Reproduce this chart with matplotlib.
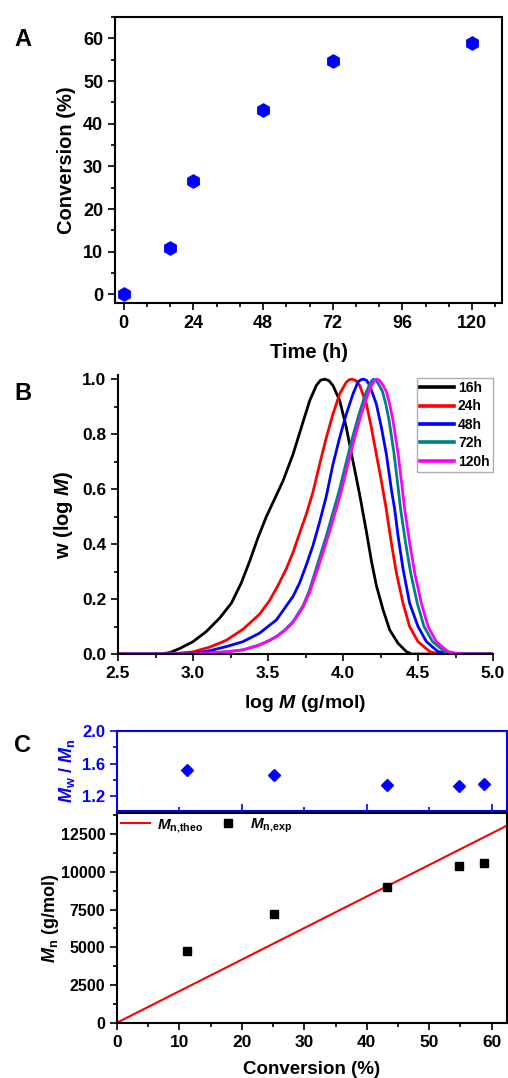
import numpy as np
import matplotlib
matplotlib.use("Agg")
import matplotlib.pyplot as plt
from matplotlib.ticker import MultipleLocator, FormatStrFormatter
from matplotlib.lines import Line2D

plt.rcParams['font.family'] = ['Liberation Sans', 'DejaVu Sans']
plt.rcParams['font.weight'] = 'bold'
plt.rcParams['mathtext.fontset'] = 'custom'
plt.rcParams['mathtext.rm'] = 'Liberation Sans:bold'
plt.rcParams['mathtext.it'] = 'Liberation Sans:italic:bold'
plt.rcParams['mathtext.bf'] = 'Liberation Sans:bold'
plt.rcParams['mathtext.bfit'] = 'Liberation Sans:italic:bold'

# ---- panel A: conversion vs time
time_h = [0, 16, 24, 48, 72, 120]
conversion = [0, 11.0, 26.7, 43.2, 54.7, 58.8]

# ---- panel B: GPC traces
logM_16 = [2.5, 2.78, 2.845, 2.911, 3.0, 3.089, 3.178, 3.256, 3.322, 3.378, 3.433, 3.489, 3.545,
           3.60, 3.667, 3.722, 3.778, 3.822, 3.85, 3.878, 3.905, 3.933, 3.978, 4.022, 4.067, 4.111,
           4.156, 4.189, 4.222, 4.267, 4.311, 4.367, 4.422, 4.456, 5.0]
w_16 = [0, 0, 0.005, 0.02, 0.045, 0.082, 0.131, 0.185, 0.259, 0.338, 0.423, 0.50, 0.565,
        0.63, 0.727, 0.824, 0.922, 0.977, 0.996, 1.0, 0.995, 0.977, 0.922, 0.824, 0.70, 0.58,
        0.445, 0.34, 0.25, 0.161, 0.088, 0.039, 0.009, 0, 0]
logM_24 = [2.5, 2.85, 3.0, 3.111, 3.222, 3.333, 3.444, 3.511, 3.567, 3.622, 3.667, 3.711, 3.756,
           3.80, 3.844, 3.889, 3.933, 3.978, 4.022, 4.042, 4.062, 4.085, 4.111, 4.156, 4.189, 4.222,
           4.256, 4.289, 4.322, 4.356, 4.40, 4.444, 4.50, 4.578, 4.64, 5.0]
w_24 = [0, 0, 0.008, 0.025, 0.05, 0.09, 0.145, 0.195, 0.25, 0.31, 0.37, 0.44, 0.51,
        0.59, 0.69, 0.788, 0.873, 0.947, 0.989, 0.998, 1.0, 0.995, 0.977, 0.91, 0.824, 0.727,
        0.629, 0.525, 0.405, 0.295, 0.185, 0.10, 0.045, 0.009, 0, 0]
logM_48 = [2.5, 2.95, 3.05, 3.111, 3.222, 3.333, 3.444, 3.511, 3.556, 3.622, 3.667, 3.711, 3.756,
           3.80, 3.844, 3.889, 3.933, 3.978, 4.022, 4.067, 4.10, 4.12, 4.138, 4.158, 4.178, 4.222,
           4.256, 4.289, 4.322, 4.345, 4.367, 4.40, 4.444, 4.50, 4.556, 4.633, 4.71, 5.0]
w_48 = [0, 0, 0.006, 0.012, 0.027, 0.045, 0.076, 0.105, 0.124, 0.175, 0.21, 0.259, 0.325,
        0.395, 0.48, 0.575, 0.69, 0.788, 0.873, 0.947, 0.99, 0.998, 1.0, 0.995, 0.977, 0.91,
        0.824, 0.727, 0.60, 0.525, 0.43, 0.31, 0.185, 0.10, 0.045, 0.009, 0, 0]
logM_72 = [2.5, 3.0, 3.111, 3.222, 3.333, 3.444, 3.511, 3.556, 3.611, 3.667, 3.733, 3.775, 3.815,
           3.855, 3.897, 3.941, 3.974, 4.018, 4.063, 4.107, 4.150, 4.172, 4.19, 4.205, 4.222, 4.242,
           4.263, 4.285, 4.307, 4.340, 4.362, 4.384, 4.417, 4.451, 4.495, 4.540, 4.597, 4.677, 4.76, 5.0]
w_72 = [0, 0, 0.004, 0.008, 0.015, 0.033, 0.05, 0.064, 0.087, 0.118, 0.175, 0.23, 0.30,
        0.37, 0.445, 0.53, 0.593, 0.69, 0.788, 0.873, 0.947, 0.975, 0.994, 1.0, 0.995, 0.977,
        0.955, 0.91, 0.85, 0.73, 0.63, 0.527, 0.405, 0.295, 0.185, 0.10, 0.045, 0.009, 0, 0]
logM_120 = [2.5, 3.0, 3.111, 3.222, 3.333, 3.444, 3.511, 3.556, 3.611, 3.667, 3.733, 3.778, 3.822,
            3.867, 3.911, 3.956, 3.989, 4.033, 4.078, 4.122, 4.167, 4.189, 4.208, 4.227, 4.245, 4.267,
            4.289, 4.311, 4.333, 4.367, 4.389, 4.411, 4.444, 4.478, 4.522, 4.567, 4.622, 4.70, 4.78, 5.0]
w_120 = [0, 0, 0.004, 0.008, 0.015, 0.033, 0.05, 0.063, 0.085, 0.115, 0.17, 0.225, 0.295,
         0.37, 0.445, 0.53, 0.593, 0.69, 0.788, 0.873, 0.947, 0.975, 0.994, 1.0, 0.995, 0.977,
         0.955, 0.91, 0.85, 0.73, 0.63, 0.527, 0.405, 0.295, 0.185, 0.10, 0.045, 0.009, 0, 0]
trace_labels = ['16h', '24h', '48h', '72h', '120h']
trace_colors = ['black', '#ff0000', '#0000ff', '#008080', '#ff00ff']

# ---- panel C: Mn and dispersity vs conversion
conv_exp = [11.2, 25.2, 43.3, 54.8, 58.8]
mn_exp = [4780, 7230, 8980, 10380, 10580]
pdi = [1.518, 1.465, 1.335, 1.323, 1.347]
conv_theo = [0, 65]
mn_theo = [0, 13600]

fig = plt.figure(figsize=(5.08, 10.78), dpi=100)

def style(ax, size=12.5):
    ax.tick_params(which='both', direction='out', labelsize=size, width=1.2)
    ax.tick_params(which='major', length=5)
    ax.tick_params(which='minor', length=3)
    for s in ax.spines.values():
        s.set_linewidth(1.5)

# A
axA = fig.add_axes([0.2264, 0.7189, 0.7618, 0.2653])
axA.plot(time_h, conversion, 'h', color='#0000ff', ms=9.5, mec='#0000ff')
axA.set_xlim(-3, 130.3)
axA.set_ylim(-2, 65)
axA.xaxis.set_major_locator(MultipleLocator(24))
axA.xaxis.set_minor_locator(MultipleLocator(8))
axA.yaxis.set_major_locator(MultipleLocator(10))
axA.yaxis.set_minor_locator(MultipleLocator(5))
style(axA, 13)
axA.set_xlabel('Time (h)', fontsize=14.5, fontweight='bold', labelpad=8)
axA.set_ylabel('Conversion (%)', fontsize=14.5, fontweight='bold', labelpad=5)

# B
axB = fig.add_axes([0.2323, 0.3933, 0.7382, 0.2588])
traces = [(logM_16, w_16), (logM_24, w_24), (logM_48, w_48), (logM_72, w_72), (logM_120, w_120)]
for (xs, ys), lab, col in zip(traces, trace_labels, trace_colors):
    axB.plot(xs, ys, color=col, lw=2.0, label=lab, solid_joinstyle='round')
axB.set_xlim(2.5, 5.0)
axB.set_ylim(0, 1.015)
axB.spines['top'].set_visible(False)
axB.spines['right'].set_visible(False)
axB.xaxis.set_major_locator(MultipleLocator(0.5))
axB.xaxis.set_minor_locator(MultipleLocator(0.25))
axB.yaxis.set_major_locator(MultipleLocator(0.2))
axB.yaxis.set_minor_locator(MultipleLocator(0.1))
axB.xaxis.set_major_formatter(FormatStrFormatter('%.1f'))
axB.yaxis.set_major_formatter(FormatStrFormatter('%.1f'))
style(axB, 12.5)
axB.set_xlabel(r'log $\mathbfit{M}$ (g/mol)', fontsize=14, fontweight='bold', labelpad=9)
axB.set_ylabel(r'w (log $\mathbfit{M}$)', fontsize=14.5, fontweight='bold', labelpad=5)
leg = axB.legend(loc='upper right', fontsize=10, handlelength=2.4, handletextpad=0.3,
                 labelspacing=0.32, borderpad=0.25, fancybox=False, edgecolor='#999999',
                 bbox_to_anchor=(1.0, 0.991), borderaxespad=0)
leg.get_frame().set_linewidth(1.0)
for t in leg.get_texts():
    t.set_fontweight('bold')
for l in leg.get_lines():
    l.set_linewidth(2.6)

# C top: dispersity
axT = fig.add_axes([0.2303, 0.2477, 0.7677, 0.0742])
axT.plot(conv_exp, pdi, 'D', color='#0000ff', ms=6)
axT.set_xlim(0, 62.45)
axT.set_ylim(1.02, 2.0)
axT.yaxis.set_major_locator(MultipleLocator(0.4))
axT.yaxis.set_minor_locator(MultipleLocator(0.2))
axT.xaxis.set_major_locator(MultipleLocator(20))
axT.xaxis.set_minor_locator(MultipleLocator(10))
style(axT, 12)
axT.tick_params(axis='x', which='both', direction='in', labelbottom=False, color='#0000ff')
axT.tick_params(axis='y', which='both', colors='#0000ff')
for s in axT.spines.values():
    s.set_color('#0000ff')
axT.set_ylabel(r'$\mathbfit{M}_\mathbf{w}$ / $\mathbfit{M}_\mathbf{n}$', fontsize=13,
               fontweight='bold', color='#0000ff', labelpad=4)

# C bottom: Mn
axC = fig.add_axes([0.2303, 0.0513, 0.7677, 0.1945])
axC.plot(conv_theo, mn_theo, color='#ff0000', lw=1.5)
axC.plot(conv_exp, mn_exp, 's', color='black', ms=5.5)
axC.set_xlim(0, 62.45)
axC.set_ylim(0, 13900)
axC.xaxis.set_major_locator(MultipleLocator(10))
axC.xaxis.set_minor_locator(MultipleLocator(5))
axC.yaxis.set_major_locator(MultipleLocator(2500))
axC.yaxis.set_minor_locator(MultipleLocator(1250))
style(axC, 12.5)
axC.tick_params(axis='y', labelsize=11.5)
axC.set_xlabel('Conversion (%)', fontsize=13.5, fontweight='bold', labelpad=8)
axC.set_ylabel(r'$\mathbfit{M}_\mathbf{n}$ (g/mol)', fontsize=13, fontweight='bold', labelpad=0)
handles = [Line2D([], [], color='#ff0000', lw=1.5),
           Line2D([], [], ls='none', marker='s', color='black', ms=5.5)]
axC.legend(handles, [r'$\mathbfit{M}_\mathbf{n{,}theo}$', r'$\mathbfit{M}_\mathbf{n{,}exp}$'],
           loc='upper left', ncol=2, frameon=False, fontsize=11, handlelength=1.9,
           handletextpad=0.5, columnspacing=0.6, borderaxespad=0, borderpad=0.25)

for letter, ypix in [('A', 40), ('B', 393), ('C', 745)]:
    fig.text(0.045, 1 - ypix / 1078, letter, fontsize=17, fontweight='bold', ha='center', va='center')

fig.savefig('out.png', dpi=100)
